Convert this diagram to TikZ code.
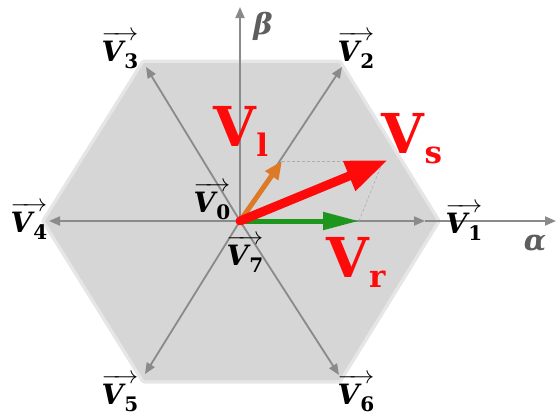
\documentclass[tikz,border=0pt]{standalone}
\usepackage{amsmath}
\usepackage{fontspec}
\newfontfamily\lab{DejaVu Serif}
\usetikzlibrary{arrows.meta}
\definecolor{hexfill}{HTML}{D6D6D6}
\definecolor{hexedge}{HTML}{E6E6E6}
\definecolor{axgray}{HTML}{8A8A8A}
\definecolor{txtgray}{HTML}{5E5E5E}
\definecolor{vgreen}{HTML}{1E961E}
\definecolor{vorange}{HTML}{DC7A28}
\definecolor{vred}{HTML}{FF0A0A}
\newcommand{\vlab}[1]{$\overrightarrow{\hbox{\lab\bfseries\itshape V\kern1pt}\hbox{\raisebox{-7pt}{\lab\bfseries\fontsize{20}{20}\selectfont #1}}}$}
\newcommand{\rsub}[1]{\raisebox{-10pt}{\fontsize{31}{33}\selectfont #1}}
\tikzset{
  vecline/.style={draw=axgray, line width=1.8pt, -{Triangle[length=11pt,width=9pt]}},
  vlabel/.style={inner sep=0pt, font=\fontsize{28}{32}\selectfont},
  axlabel/.style={inner sep=0pt, text=txtgray, font=\lab\bfseries\itshape\fontsize{29}{32}\selectfont},
  redlab/.style={inner sep=0pt, text=vred, font=\lab\bfseries\fontsize{55}{60}\selectfont},
  helper/.style={draw=axgray!70, line width=0.6pt, dashed, dash pattern=on 3pt off 2pt}
}
\begin{document}
\begin{tikzpicture}[x=1pt,y=-1pt]
\useasboundingbox (0,0) rectangle (558,416);
% hexagon
\coordinate (h1) at (437,221);
\coordinate (h2) at (339,63);
\coordinate (h3) at (144,63);
\coordinate (h4) at (45,221);
\coordinate (h5) at (144,380);
\coordinate (h6) at (339,380);
\draw[draw=hexedge, line width=7pt, fill=hexfill, line join=round] (h1)--(h2)--(h3)--(h4)--(h5)--(h6)--cycle;
\fill[hexfill] (h1)--(h2)--(h3)--(h4)--(h5)--(h6)--cycle;
% origin and tips
\coordinate (O) at (240,221);
\coordinate (t1) at (425,221);
\coordinate (t2) at (342,67);
\coordinate (t3) at (146,67);
\coordinate (t4) at (49,221);
\coordinate (t5) at (145,374);
\coordinate (t6) at (339,375);
\coordinate (alphaend) at (556,221);
\coordinate (betaend) at (240,7);
% axes
\draw[vecline] (O) -- (betaend);
\draw[vecline] (t1) -- (alphaend);
% basic vectors
\draw[vecline] (O) -- (t1);
\draw[vecline] (O) -- (t2);
\draw[vecline] (O) -- (t3);
\draw[vecline] (O) -- (t4);
\draw[vecline] (O) -- (t5);
\draw[vecline] (O) -- (t6);
% parallelogram helpers
\coordinate (lt) at (282,161);
\coordinate (rt) at (359,221);
\coordinate (st) at (383,161);
\draw[helper] (lt) -- (st);
\draw[helper] (rt) -- (st);
% colored vectors
\draw[draw=vgreen, line width=5pt, -{Triangle[length=36pt,width=17pt]}] (O) -- (rt);
\draw[draw=vorange, line width=5pt, -{Triangle[length=18pt,width=15pt]}] (O) -- (lt);
\draw[draw=vred, line width=9pt, line cap=round, -{Triangle[length=42pt,width=30pt]}] (O) -- (388,160);
% labels
\node[axlabel] (beta) at (263,26) {β};
\node[axlabel] (alpha) at (535,243) {α};
\node[vlabel] (L1) at (464,222) {\vlab{1}};
\node[vlabel] (L2) at (356,50) {\vlab{2}};
\node[vlabel] (L3) at (120,50) {\vlab{3}};
\node[vlabel] (L4) at (29,221) {\vlab{4}};
\node[vlabel] (L5) at (120,393) {\vlab{5}};
\node[vlabel] (L6) at (356,393) {\vlab{6}};
\node[vlabel] (L0) at (212,201) {\vlab{0}};
\node[vlabel] (L7) at (245,254) {\vlab{7}};
\node[redlab] (Vl) at (241,131) {V\rsub{l}};
\node[redlab] (Vs) at (412,139) {V\rsub{s}};
\node[redlab] (Vr) at (356,262) {V\rsub{r}};
\end{tikzpicture}
\end{document}
